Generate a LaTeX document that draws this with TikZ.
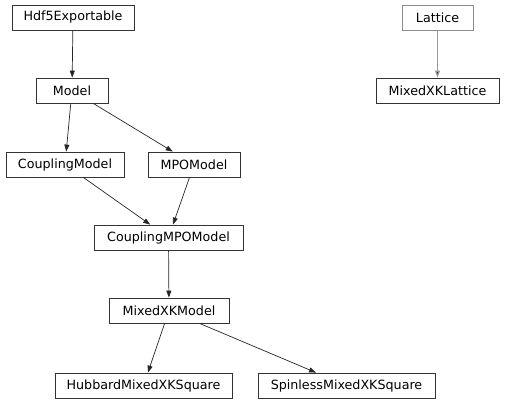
\documentclass[tikz,border=0pt]{standalone}
\usepackage{fontspec}
\setmainfont{DejaVu Sans}
\usetikzlibrary{arrows.meta}
\begin{document}
\begin{tikzpicture}[x=1pt,y=-1pt,
  cls/.style={draw=black!80, line width=0.8pt, fill=white, inner sep=0pt, minimum height=25pt, font=\fontsize{12.7}{14}\selectfont},
  gcls/.style={cls, draw=black!45},
  inh/.style={draw=black!85, line width=0.7pt, -{Triangle[length=7pt,width=5pt]}},
  ginh/.style={inh, draw=black!40, line width=1.2pt, -{Triangle[length=7pt,width=5pt,fill=black!85]}}]
\useasboundingbox (0,0) rectangle (505,403);
\node[cls, minimum width=122pt] (hdf) at (73,17.5) {Hdf5Exportable};
\node[gcls, minimum width=71pt] (lat) at (437.5,17.5) {Lattice};
\node[cls, minimum width=72pt] (model) at (72,90.5) {Model};
\node[cls, minimum width=123pt] (mxl) at (437.5,90.5) {MixedXKLattice};
\node[cls, minimum width=118pt] (cm) at (65,164.5) {CouplingModel};
\node[cls, minimum width=92pt] (mpo) at (194,164.5) {MPOModel};
\node[cls, minimum width=149pt] (cmpo) at (168.5,237.5) {CouplingMPOModel};
\node[cls, minimum width=120pt] (mxm) at (169,310.5) {MixedXKModel};
\node[cls, minimum width=177pt] (hub) at (143.5,385.5) {HubbardMixedXKSquare};
\node[cls, minimum width=177pt] (spl) at (346.5,385.5) {SpinlessMixedXKSquare};
\draw[inh] (hdf) -- (model);
\draw[ginh] (lat) -- (mxl);
\draw[inh] (model) -- (cm);
\draw[inh] (model) -- (mpo);
\draw[inh] (cm) -- (cmpo);
\draw[inh] (mpo) -- (cmpo);
\draw[inh] (cmpo) -- (mxm);
\draw[inh] (mxm) -- (hub);
\draw[inh] (mxm) -- (spl);
\end{tikzpicture}
\end{document}
